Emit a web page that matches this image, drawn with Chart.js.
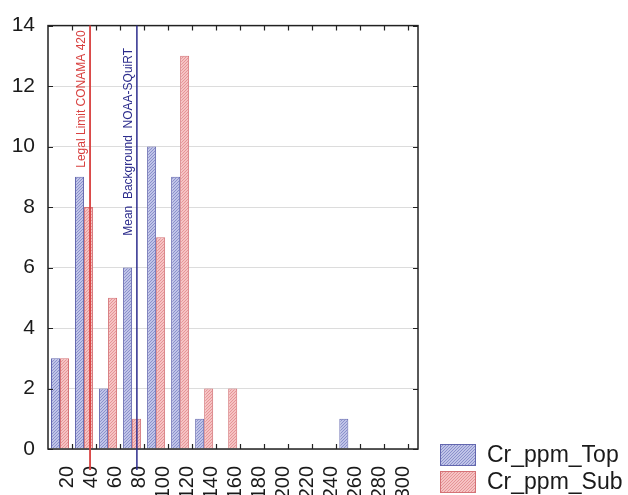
<!DOCTYPE html>
<html>
<head>
<meta charset="utf-8">
<script src="https://cdn.jsdelivr.net/npm/chart.js@4.4.0/dist/chart.umd.min.js"></script>
<style>
    html, body { margin: 0; padding: 0; background: #fff; }
    #wrap { width: 628px; height: 495px; }
</style>
</head>
<body>
<div id="wrap"><canvas id="cr_hist" width="628" height="495"></canvas></div>
<script>
// bins of 20 ppm, x = bin middle
var binMids = [10, 30, 50, 70, 90, 110, 130, 150, 170, 190, 210, 230, 250, 270, 290];
var topCounts = [3, 9, 2, 6, 10, 9, 1, 0, 0, 0, 0, 0, 1, 0, 0];
var subCounts = [3, 8, 5, 1, 7, 13, 2, 2, 0, 0, 0, 0, 0, 0, 0];
var seriesNames = ['Cr_ppm_Top', 'Cr_ppm_Sub'];
var xTicks = [20, 40, 60, 80, 100, 120, 140, 160, 180, 200, 220, 240, 260, 280, 300];
var yTicks = [0, 2, 4, 6, 8, 10, 12, 14];
// reference lines
var refValues = [35, 74];
var refLabels = ['Legal Limit CONAMA 420', 'Mean  Background  NOAA-SQuiRT'];
var refLabelStart = [9.3, 7.05];
var refColors = ['#d8403f', '#2c2c8c'];

var ctx = document.getElementById('cr_hist').getContext('2d');

function hatch(bg, fg) {
    var c = document.createElement('canvas');
    c.width = 3; c.height = 3;
    var g = c.getContext('2d');
    g.fillStyle = bg;
    g.fillRect(0, 0, 3, 3);
    g.strokeStyle = fg;
    g.lineWidth = 1;
    g.beginPath();
    g.moveTo(0, 3); g.lineTo(3, 0);
    g.moveTo(-1, 1); g.lineTo(1, -1);
    g.moveTo(2, 4); g.lineTo(4, 2);
    g.stroke();
    return ctx.createPattern(c, 'repeat');
}

var fills = [hatch('#c0c4e8', '#8a90cb'), hatch('#f6c3c3', '#e59497')];
var borders = ['#6367ae', '#d47276'];

function points(counts) {
    return binMids.map((m, i) => ({ x: m, y: counts[i] }));
}

// frame, inner ticks, reference lines and legend
var extras = {
    id: 'extras',
    afterDraw(chart) {
        var c = chart.ctx;
        var a = chart.chartArea;
        var xs = chart.scales.x, ys = chart.scales.y;
        c.save();
        c.strokeStyle = '#222';
        c.lineWidth = 1.5;
        c.strokeRect(a.left, a.top, a.right - a.left, a.bottom - a.top);
        c.lineWidth = 1.2;
        c.beginPath();
        xTicks.forEach(v => {
            var px = Math.round(xs.getPixelForValue(v)) + 0.5;
            c.moveTo(px, a.bottom); c.lineTo(px, a.bottom - 5);
            c.moveTo(px, a.top); c.lineTo(px, a.top + 5);
        });
        yTicks.forEach(v => {
            var py = Math.round(ys.getPixelForValue(v)) + 0.5;
            c.moveTo(a.left, py); c.lineTo(a.left + 5, py);
            c.moveTo(a.right, py); c.lineTo(a.right - 5, py);
        });
        c.stroke();

        refValues.forEach((v, i) => {
            var px = xs.getPixelForValue(v);
            c.strokeStyle = refColors[i];
            c.lineWidth = i == 0 ? 1.8 : 1.5;
            c.beginPath();
            c.moveTo(px, a.top);
            c.lineTo(px, a.bottom + 21);
            c.stroke();
            c.save();
            c.translate(px - 5, ys.getPixelForValue(refLabelStart[i]));
            c.rotate(-Math.PI / 2);
            c.fillStyle = refColors[i];
            c.font = '12px "Liberation Sans", Arial, sans-serif';
            c.textAlign = 'left';
            c.textBaseline = 'alphabetic';
            c.fillText(refLabels[i], 0, 0);
            c.restore();
        });

        // legend
        var lx = a.right + 22;
        var boxH = 22, gap = 5;
        var ly = chart.height - 2 - seriesNames.length * boxH - (seriesNames.length - 1) * gap;
        c.font = '23px "Liberation Sans", Arial, sans-serif';
        c.textBaseline = 'middle';
        c.textAlign = 'left';
        chart.data.datasets.forEach((ds, i) => {
            var y0 = ly + i * (boxH + gap);
            c.fillStyle = ds.backgroundColor;
            c.fillRect(lx, y0, 36, boxH);
            c.strokeStyle = ds.borderColor;
            c.lineWidth = 1;
            c.strokeRect(lx + 0.5, y0 + 0.5, 35, boxH - 1);
            c.fillStyle = '#1a1a1a';
            c.fillText(ds.label, lx + 47, y0 + boxH / 2 + 1);
        });
        c.restore();
    }
};

var histChart = new Chart(ctx, {
    type: 'bar',
    data: {
        datasets: [{
            label: seriesNames[0],
            data: points(topCounts),
            backgroundColor: fills[0],
            borderColor: borders[0],
            borderWidth: 1,
            categoryPercentage: 0.75,
            barPercentage: 1.0
        }, {
            label: seriesNames[1],
            data: points(subCounts),
            backgroundColor: fills[1],
            borderColor: borders[1],
            borderWidth: 1,
            categoryPercentage: 0.75,
            barPercentage: 1.0
        }]
    },
    options: {
        responsive: false,
        animation: false,
        layout: { padding: { left: 0, top: 25, right: 210, bottom: 0 } },
        plugins: {
            legend: { display: false },
            tooltip: { enabled: false }
        },
        scales: {
            x: {
                type: 'linear',
                offset: false,
                min: 0,
                max: 308,
                afterBuildTicks: (s) => { s.ticks = xTicks.map(v => ({ value: v })); },
                afterFit: (s) => { s.height = 46; },
                grid: { display: false },
                border: { display: false },
                ticks: {
                    minRotation: 90,
                    maxRotation: 90,
                    autoSkip: false,
                    labelOffset: -5,
                    padding: 9,
                    color: '#1a1a1a',
                    font: { family: '"Liberation Sans", Arial, sans-serif', size: 20 }
                }
            },
            y: {
                min: 0,
                max: 14,
                afterBuildTicks: (s) => { s.ticks = yTicks.map(v => ({ value: v })); },
                afterFit: (s) => { s.width = 48; },
                grid: { color: '#dcdcdc', drawTicks: false },
                border: { display: false },
                ticks: {
                    padding: 13,
                    color: '#1a1a1a',
                    font: { family: '"Liberation Sans", Arial, sans-serif', size: 21 }
                }
            }
        }
    },
    plugins: [extras]
});
</script>
</body>
</html>
